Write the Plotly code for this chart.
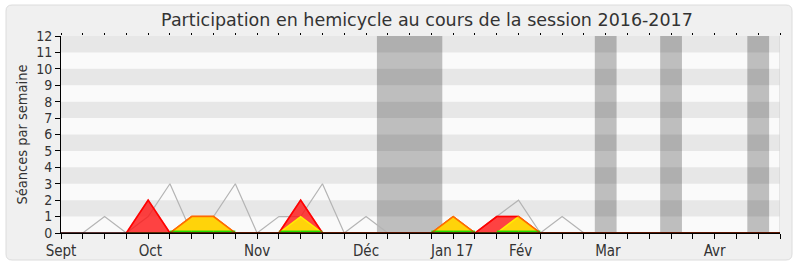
import plotly.graph_objects as go

# ---------------- data ----------------
weeks = list(range(34))
seances_hemicycle = [0, 0, 1, 0, 1, 3, 0, 1, 3, 0, 1, 1, 3, 0, 1, 0, 0, 0, 1, 0,
                     1, 2, 0, 1, 0, 0, 0, 0, 0, 0, 0, 0, 0, 0]
presences = [None, None, None, 0, 2, 0, 1, 1, 0, 0, 0, 2, 0, 0, 0, 0, 0, 0, 1, 0,
             1, 1, 0, 0, 0, 0, 0, 0, 0, 0, 0, 0, 0, 0]
interventions = [None, None, None, 0, 0, 0, 1, 1, 0, 0, 0, 1, 0, 0, 0, 0, 0, 0, 1, 0,
                 0, 1, 0, 0, 0, 0, 0, 0, 0, 0, 0, 0, 0, 0]
questions = [None, None, None, 0, 0, 0, 0, 0, 0, 0, 0, 0, 0, 0, 0, 0, 0, 0, 0, 0,
             0, 0, 0, 0, 0, 0, 0, 0, 0, 0, 0, 0, 0, 0]
vacances_weeks = [15, 16, 17, 25, 28, 32]
month_labels = ["Sept", "Oct", "Nov", "Déc", "Jan 17", "Fév", "Mar", "Avr"]
month_pos = [0, 4.1, 9, 14, 17.95, 21.1, 25.1, 30]
y_ticks = list(range(13))

# ---------------- geometry helpers ----------------
W, H = 800, 267
ML, MR, MT, MB = 61, 20, 36, 34
PW, PH = W - ML - MR, H - MT - MB
TICKFONT = "DejaVu Sans Condensed, DejaVu Sans"


def px(xp):
    return (xp - ML) / PW


def py(yp):
    return (H - MB - yp) / PH


fig = go.Figure()

# grey line: séances
fig.add_trace(go.Scatter(x=weeks, y=seances_hemicycle, mode="lines",
                         line=dict(color="#B4B4B4", width=1.2), hoverinfo="skip"))
# red area: présences
fig.add_trace(go.Scatter(x=weeks, y=presences, mode="lines", fill="tozeroy",
                         fillcolor="rgba(255,20,20,0.8)",
                         line=dict(color="#FF0000", width=1.5), hoverinfo="skip"))
# yellow area: interventions
fig.add_trace(go.Scatter(x=weeks, y=interventions, mode="lines", fill="tozeroy",
                         fillcolor="#FFD30A",
                         line=dict(color="#FFEE00", width=1.5), hoverinfo="skip"))
# green line, visible where the yellow area is
gx, gy = [], []
for i in range(len(weeks) - 1):
    a, b = interventions[i], interventions[i + 1]
    if a is not None and b is not None and (a > 0 or b > 0):
        gx += [weeks[i], weeks[i + 1], None]
        gy += [questions[i], questions[i + 1], None]
fig.add_trace(go.Scatter(x=gx, y=[v + 0.1 if v is not None else None for v in gy],
                         mode="lines", line=dict(color="#22DD00", width=1.6),
                         connectgaps=False, hoverinfo="skip"))
# red overlay line (gives orange where red and yellow edges meet)
fig.add_trace(go.Scatter(x=weeks, y=presences, mode="lines",
                         line=dict(color="rgba(255,0,0,0.55)", width=1.5), hoverinfo="skip"))
# helper traces for the tick axes
fig.add_trace(go.Scatter(x=[], y=[], xaxis="x2", showlegend=False))
fig.add_trace(go.Scatter(x=[], y=[], xaxis="x3", showlegend=False))

shapes = []
# outer rounded box
x0, x1, y0, y1 = px(6), px(792), py(260), py(5)
rx, ry = 6 / PW, 6 / PH
path = (f"M {x0+rx},{y1} L {x1-rx},{y1} Q {x1},{y1} {x1},{y1-ry} "
        f"L {x1},{y0+ry} Q {x1},{y0} {x1-rx},{y0} L {x0+rx},{y0} "
        f"Q {x0},{y0} {x0},{y0+ry} L {x0},{y1-ry} Q {x0},{y1} {x0+rx},{y1} Z")
shapes.append(dict(type="path", path=path, xref="paper", yref="paper",
                   fillcolor="#F0F0F0", line=dict(color="#DCDCDC", width=1), layer="below"))
# plot background
shapes.append(dict(type="rect", xref="x", yref="y", x0=0, x1=33, y0=0, y1=12,
                   fillcolor="#FAFAFA", line=dict(width=0), layer="below"))
# vacation bands (contiguous weeks merged)
runs = []
for w in sorted(vacances_weeks):
    if runs and w == runs[-1][1] + 1:
        runs[-1][1] = w
    else:
        runs.append([w, w])
for a, b in runs:
    shapes.append(dict(type="rect", xref="x", yref="y", x0=a - 0.5, x1=b + 0.5, y0=0, y1=12,
                       fillcolor="#BEBEBE", line=dict(width=0), layer="below"))
# horizontal stripes
for k in range(1, 12, 2):
    shapes.append(dict(type="rect", xref="x", yref="y", x0=0, x1=33, y0=k, y1=k + 1,
                       fillcolor="rgba(0,0,0,0.075)", line=dict(width=0), layer="below"))
# right border
shapes.append(dict(type="line", xref="x", yref="y", x0=33, x1=33, y0=0, y1=12,
                   line=dict(color="#D0D0D0", width=1), layer="below"))
# darkened baseline over the zero-level red line
shapes.append(dict(type="line", xref="x", yref="y", x0=0, x1=33, y0=0, y1=0,
                   line=dict(color="rgba(50,0,0,0.8)", width=2), layer="above"))

fig.update_layout(
    width=W, height=H,
    margin=dict(l=ML, r=MR, t=MT, b=MB, autoexpand=False),
    paper_bgcolor="white", plot_bgcolor="rgba(0,0,0,0)",
    showlegend=False,
    font=dict(family="DejaVu Sans", color="#333333"),
    title=dict(text="Participation en hemicycle au cours de la session 2016-2017",
               x=427 / W, xanchor="center", y=1 - 20 / H, yanchor="middle",
               font=dict(size=17.5, color="#333333")),
    shapes=shapes,
    xaxis=dict(range=[0, 33], tickmode="array", tickvals=month_pos, ticktext=month_labels,
               ticks="outside", ticklen=4, tickcolor="rgba(0,0,0,0)",
               showline=True, linecolor="black", linewidth=1, automargin=False,
               showgrid=False, zeroline=False,
               tickfont=dict(family=TICKFONT, size=15, color="#333333")),
    xaxis2=dict(range=[0, 33], overlaying="x", anchor="y", side="bottom",
                tickmode="array", tickvals=weeks, ticks="outside", ticklen=5,
                tickcolor="black", showticklabels=False, showgrid=False,
                zeroline=False, showline=False, automargin=False),
    xaxis3=dict(range=[0, 33], overlaying="x", anchor="y", side="top",
                tickmode="array", tickvals=weeks, ticks="outside", ticklen=2,
                tickcolor="black", showticklabels=False, showgrid=False,
                zeroline=False, showline=False, automargin=False),
    yaxis=dict(range=[0, 12], tickmode="array", tickvals=y_ticks,
               ticks="outside", ticklen=5, tickcolor="black",
               showline=True, linecolor="black", linewidth=1, automargin=False,
               showgrid=False, zeroline=False,
               tickfont=dict(family=TICKFONT, size=14, color="#333333"),
               title=dict(text="Séances par semaine",
                          font=dict(family=TICKFONT, size=14.5, color="#333333"),
                          standoff=5)),
)

fig.write_html("out.html")
